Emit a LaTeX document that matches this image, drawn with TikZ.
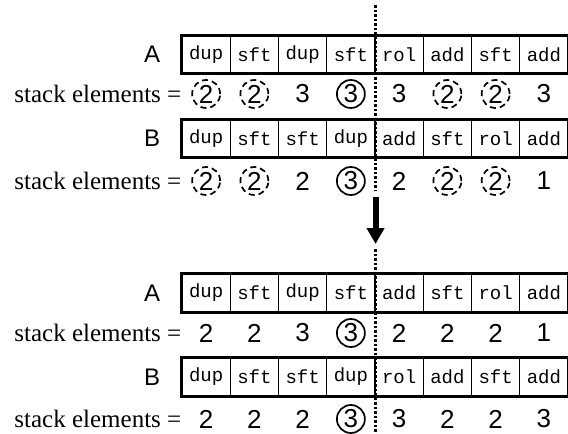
\documentclass[tikz,border=0pt]{standalone}
\usepackage{fontspec}
\setmainfont{Liberation Serif}
\newfontfamily\opfamily{Liberation Mono}
\newfontfamily\numfamily{Liberation Sans}
\usetikzlibrary{positioning,arrows.meta}

\begin{document}
\begin{tikzpicture}[x=1pt, y=-1pt,
  op/.style={draw, line width=1.1pt, minimum width=48.25pt, minimum height=37pt,
    inner sep=0pt, font=\opfamily\fontsize{19}{19}\selectfont},
  elem/.style={circle, minimum size=28pt, inner sep=0pt,
    font=\numfamily\fontsize{26}{26}\selectfont},
  bare/.style={elem},
  maybe/.style={elem, draw, dash pattern=on 6pt off 4pt, line width=1.7pt},
  fixed/.style={elem, draw, line width=1.7pt},
  tag/.style={inner sep=0pt, font=\numfamily\fontsize{24}{24}\selectfont},
  lead/.style={anchor=east, inner sep=0pt, font=\fontsize{25}{25}\selectfont},
  frame/.style={line width=3pt},
  cut/.style={line width=2.5pt, dash pattern=on 2.5pt off 2pt},
  turn/.style={line width=6pt, -{Triangle[width=17pt,length=16pt]}}]

  \useasboundingbox (0,0) rectangle (568,434);

  % before: sequence A
  \foreach \o [count=\i] in {dup,sft,dup,sft,rol,add,sft,add}
    \node [op] (preA-\i) at (157.875+48.25*\i, 54.5) {\o};
  \draw [frame] (preA-1.north west) rectangle (preA-8.south east);
  \node [tag, left=21pt of preA-1] (preA) {A};
  \foreach \v/\s [count=\i] in {2/maybe,2/maybe,3/bare,3/fixed,3/bare,2/maybe,2/maybe,3/bare}
    \node [\s] (preA-e\i) at (preA-\i |- 0,94) {\v};
  \node [lead] (preA-lead) at (preA-1.west |- preA-e1) {stack elements =};

  % before: sequence B
  \foreach \o [count=\i] in {dup,sft,sft,dup,add,sft,rol,add}
    \node [op] (preB-\i) at (157.875+48.25*\i, 138.5) {\o};
  \draw [frame] (preB-1.north west) rectangle (preB-8.south east);
  \node [tag, left=21pt of preB-1] (preB) {B};
  \foreach \v/\s [count=\i] in {2/maybe,2/maybe,2/bare,3/fixed,2/bare,2/maybe,2/maybe,1/bare}
    \node [\s] (preB-e\i) at (preB-\i |- 0,181) {\v};
  \node [lead] (preB-lead) at (preB-1.west |- preB-e1) {stack elements =};

  % after: sequence A
  \foreach \o [count=\i] in {dup,sft,dup,sft,add,sft,rol,add}
    \node [op] (postA-\i) at (157.875+48.25*\i, 293) {\o};
  \draw [frame] (postA-1.north west) rectangle (postA-8.south east);
  \node [tag, left=21pt of postA-1] (postA) {A};
  \foreach \v/\s [count=\i] in {2/bare,2/bare,3/bare,3/fixed,2/bare,2/bare,2/bare,1/bare}
    \node [\s] (postA-e\i) at (postA-\i |- 0,333) {\v};
  \node [lead] (postA-lead) at (postA-1.west |- postA-e1) {stack elements =};

  % after: sequence B
  \foreach \o [count=\i] in {dup,sft,sft,dup,rol,add,sft,add}
    \node [op] (postB-\i) at (157.875+48.25*\i, 377) {\o};
  \draw [frame] (postB-1.north west) rectangle (postB-8.south east);
  \node [tag, left=21pt of postB-1] (postB) {B};
  \foreach \v/\s [count=\i] in {2/bare,2/bare,2/bare,3/fixed,3/bare,2/bare,2/bare,3/bare}
    \node [\s] (postB-e\i) at (postB-\i |- 0,419) {\v};
  \node [lead] (postB-lead) at (postB-1.west |- postB-e1) {stack elements =};

  % crossover point and the swap arrow
  \coordinate (cut top) at (preA-4.north east |- 0,5);
  \coordinate (cut end) at (preB-4.south east |- 0,190);
  \coordinate (turn from) at (preB-4.south east |- 0,197);
  \coordinate (turn to) at (postA-4.north east |- 0,244);
  \coordinate (cut again) at (postA-4.north east |- 0,249);
  \coordinate (cut bottom) at (postB-4.south east |- 0,434);
  \draw [cut] (cut top) -- (cut end);
  \draw [turn] (turn from) -- (turn to);
  \draw [cut] (cut again) -- (cut bottom);
\end{tikzpicture}
\end{document}
